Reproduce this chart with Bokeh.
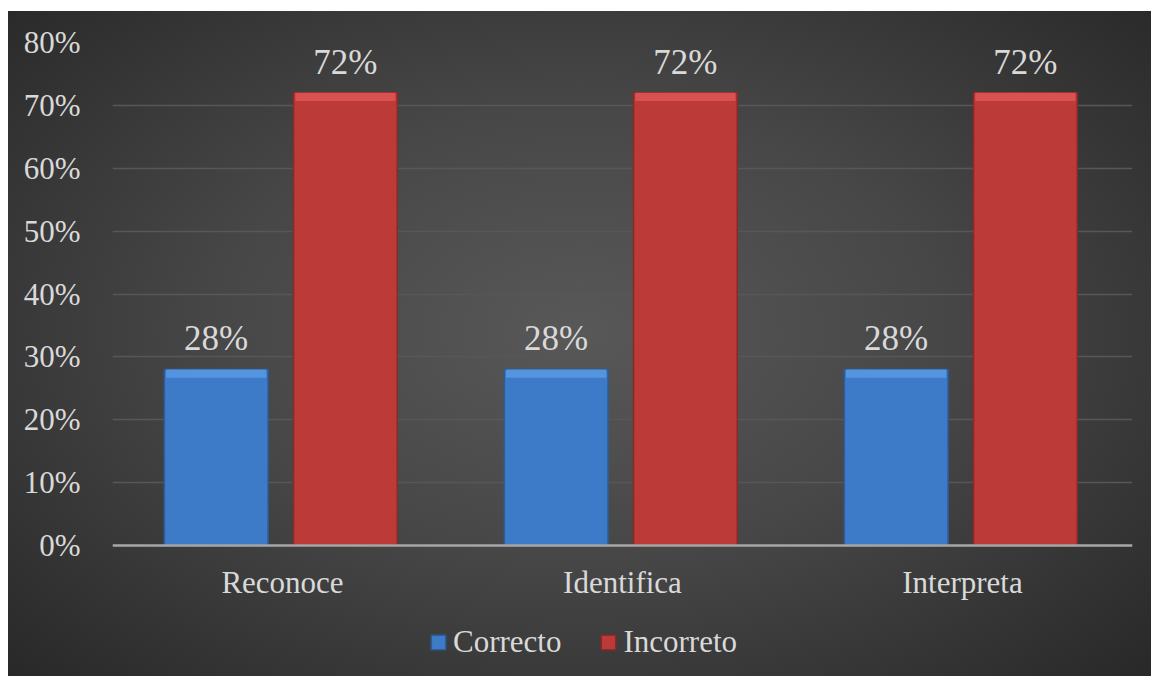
from bokeh.plotting import figure
from bokeh.models import ColumnDataSource, LabelSet, Legend, LegendItem, NumeralTickFormatter, FixedTicker, Range1d
from bokeh.transform import dodge
from bokeh.embed import file_html
from bokeh.resources import INLINE

categories = ["Reconoce", "Identifica", "Interpreta"]
correcto = [0.28, 0.28, 0.28]
incorreto = [0.72, 0.72, 0.72]
series_names = ["Correcto", "Incorreto"]
y_ticks = [0, 0.1, 0.2, 0.3, 0.4, 0.5, 0.6, 0.7, 0.8]

FONT = "Liberation Serif"
TXT = "#d9d9d9"
BLUE = "#3d7bc8"
RED = "#bc3a38"
BEVEL = 0.013  # height of the lighter top face of each bar (data units)

src = ColumnDataSource(dict(
    cat=categories,
    correcto=correcto,
    incorreto=incorreto,
    correcto_b=[v - BEVEL for v in correcto],
    incorreto_b=[v - BEVEL for v in incorreto],
    lab_c=[f"{round(v*100)}%" for v in correcto],
    lab_i=[f"{round(v*100)}%" for v in incorreto],
))

# frame extends below the zero line to leave room for category labels and legend
p = figure(x_range=categories, y_range=Range1d(-0.2083, 0.8),
           width=1143, height=665,
           output_backend="svg", toolbar_location=None,
           min_border_top=31, min_border_left=104, min_border_right=19, min_border_bottom=0)
p.styles = {"margin-left": "8px", "margin-top": "11px",
            "background-image": "radial-gradient(ellipse 70% 75% at 50% 48%, #585858 0%, #474747 45%, #282828 100%)"}
p.border_fill_alpha = 0
p.background_fill_alpha = 0
p.outline_line_color = None

r1 = p.vbar(x=dodge("cat", -0.195, range=p.x_range), top="correcto", width=0.305, source=src,
            fill_color=BLUE, line_color="#2d5c98", line_width=1.5)
r2 = p.vbar(x=dodge("cat", 0.185, range=p.x_range), top="incorreto", width=0.305, source=src,
            fill_color=RED, line_color="#8a2927", line_width=1.5)
p.vbar(x=dodge("cat", -0.195, range=p.x_range), top="correcto", bottom="correcto_b", width=0.295,
       source=src, fill_color="#5595e0", line_color=None)
p.vbar(x=dodge("cat", 0.185, range=p.x_range), top="incorreto", bottom="incorreto_b", width=0.295,
       source=src, fill_color="#d95150", line_color=None)

for col, lab, off in (("correcto", "lab_c", -0.195), ("incorreto", "lab_i", 0.185)):
    ls = LabelSet(x=dodge("cat", off, range=p.x_range), y=col, text=lab, source=src,
                  text_align="center", text_baseline="alphabetic", y_offset=19,
                  text_color=TXT, text_font=FONT, text_font_size="35px")
    p.add_layout(ls)

p.yaxis.ticker = FixedTicker(ticks=y_ticks)
p.yaxis.formatter = NumeralTickFormatter(format="0%")
p.yaxis.axis_line_color = None
p.yaxis.major_tick_line_color = None
p.yaxis.minor_tick_line_color = None
p.yaxis.major_label_text_font = FONT
p.yaxis.major_label_text_font_size = "31px"
p.yaxis.major_label_text_color = TXT
p.yaxis.major_label_standoff = 26

p.xaxis.fixed_location = 0
p.xaxis.axis_line_color = "#a6a6a6"
p.xaxis.axis_line_width = 2.5
p.xaxis.major_tick_line_color = None
p.xaxis.minor_tick_line_color = None
p.xaxis.major_label_text_font = FONT
p.xaxis.major_label_text_font_size = "31px"
p.xaxis.major_label_text_color = TXT
p.xaxis.major_label_standoff = 13

p.xgrid.grid_line_color = None
p.ygrid.grid_line_color = "#575757"
p.ygrid.grid_line_width = 1.5

legend = Legend(items=[LegendItem(label=series_names[0], renderers=[r1]),
                       LegendItem(label=series_names[1], renderers=[r2])],
                orientation="horizontal", location=(317, 16),
                background_fill_alpha=0, border_line_color=None,
                label_text_font=FONT, label_text_font_size="31px", label_text_color=TXT,
                glyph_width=18, glyph_height=18, label_standoff=6, spacing=38,
                margin=0, padding=0)
p.add_layout(legend, "center")

open("out.html", "w").write(file_html(p, INLINE))
